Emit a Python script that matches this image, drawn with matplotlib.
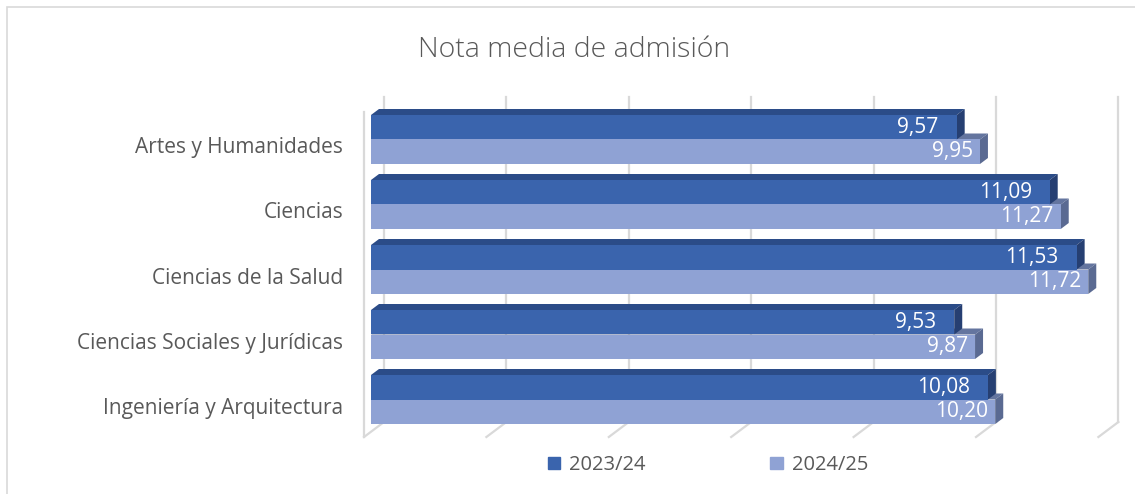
import matplotlib.pyplot as plt
import matplotlib.transforms as mtransforms
from matplotlib.patches import Polygon, Rectangle, Patch

# data
categories = [
    "Artes y Humanidades",
    "Ciencias",
    "Ciencias de la Salud",
    "Ciencias Sociales y Jurídicas",
    "Ingeniería y Arquitectura",
]
series_names = ["2023/24", "2024/25"]
nota_2324 = [9.57, 11.09, 11.53, 9.53, 10.08]
nota_2425 = [9.95, 11.27, 11.72, 9.87, 10.20]

front_colors = ["#3a64ad", "#8fa2d4"]
top_colors = ["#2b4c88", "#64759f"]
side_colors = ["#263f72", "#5a6a92"]
grid_color = "#d9d9d9"
text_color = "#595959"

plt.rcParams["font.family"] = ["Open Sans", "DejaVu Sans"]

W, H = 1135, 494
fig = plt.figure(figsize=(W / 100, H / 100), dpi=100)

# plot area in pixels (front plane of the bars)
x0_px, x1_px = 371, 371 + 12 * 61.2
y_top_px, y_bot_px = 107, 432
ax = fig.add_axes([x0_px / W, 1 - y_bot_px / H,
                   (x1_px - x0_px) / W, (y_bot_px - y_top_px) / H])
ax.set_xlim(0, 12)
ax.set_ylim(len(categories) - 0.5, -0.5)
for s in ax.spines.values():
    s.set_visible(False)
ax.set_xticks([])

px_x = (x1_px - x0_px) / 12
px_y = (y_bot_px - y_top_px) / len(categories)


def off(dx_px, dy_px):
    # pixel offset -> data offset (y axis inverted)
    return dx_px / px_x, -dy_px / px_y


# walls / gridlines
bx, by = off(13, 10)    # back wall
fx, fy = off(-7, -5)    # front wall
ylo, yhi = len(categories) - 0.5, -0.5
for v in range(0, 13, 2):
    ax.plot([v + bx, v + bx], [ylo + by, yhi + by], color=grid_color,
            lw=1.6, clip_on=False, zorder=0)
    ax.plot([v + fx, v + bx], [ylo + fy, ylo + by], color=grid_color,
            lw=1.6, clip_on=False, zorder=0)
ax.plot([fx, fx], [ylo + fy, yhi + fy], color=grid_color, lw=1.6,
        clip_on=False, zorder=0)

# 3d-ish bars
bar_h = 24.5 / px_y
dx, dy = off(8, 6)


def draw_bar(y, v, k):
    top, bot = y - bar_h / 2, y + bar_h / 2
    ax.add_patch(Polygon([(0, top), (v, top), (v + dx, top + dy), (dx, top + dy)],
                         closed=True, fc=top_colors[k], ec="none", zorder=2))
    ax.add_patch(Polygon([(v, top), (v + dx, top + dy), (v + dx, bot + dy), (v, bot)],
                         closed=True, fc=side_colors[k], ec="none", zorder=2))
    ax.barh(y, v, height=bar_h, color=front_colors[k], zorder=2)


for i, (a, b) in enumerate(zip(nota_2324, nota_2425)):
    draw_bar(i + bar_h / 2, b, 1)
    draw_bar(i - bar_h / 2, a, 0)
    for y, v, pad in [(i - bar_h / 2, a, 18), (i + bar_h / 2, b, 7)]:
        ax.annotate(f"{v:.2f}".replace(".", ","), (v, y), xytext=(-pad * 0.72, 0),
                    textcoords="offset points", ha="right", va="center",
                    color="white", fontsize=15, zorder=5)

ax.set_yticks(range(len(categories)), categories)
ax.tick_params(axis="y", length=0, pad=20, labelsize=15, labelcolor=text_color)
shift = mtransforms.ScaledTranslation(0, -6 / 100, fig.dpi_scale_trans)
for lab in ax.get_yticklabels():
    lab.set_transform(lab.get_transform() + shift)

fig.text(574 / W, 1 - 50 / H, "Nota media de admisión", ha="center", va="center",
         fontsize=20.5, fontweight="light", color=text_color)

handles = [Patch(color=front_colors[k], label=series_names[k]) for k in range(2)]
fig.legend(handles=handles, loc="center", bbox_to_anchor=(708 / W, 1 - 465 / H),
           ncol=2, frameon=False, fontsize=14.5, labelcolor=text_color,
           handlelength=0.6, handleheight=0.6, handletextpad=0.45, columnspacing=6.2)

fig.add_artist(Rectangle((7 / W, -0.1), 1.2, 1 - 7 / H + 0.1,
                         transform=fig.transFigure, fill=False,
                         ec=grid_color, lw=1.2))

fig.savefig("out.png", dpi=100)
